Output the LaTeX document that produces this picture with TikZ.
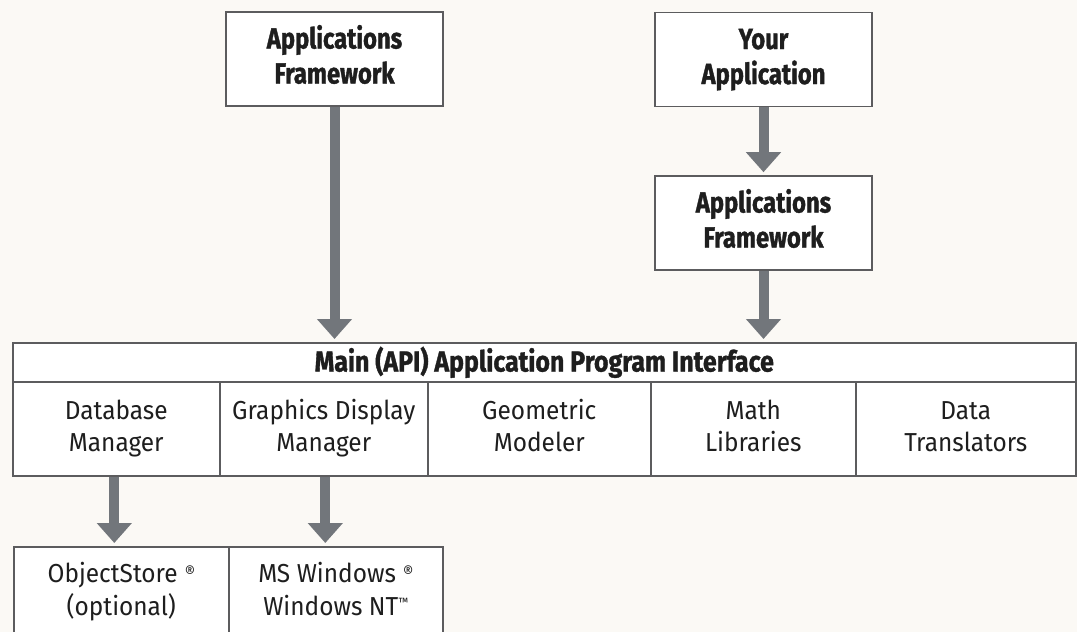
\documentclass[tikz,border=0pt]{standalone}
\usepackage{fontspec}
\setmainfont{Fira Sans}[FakeStretch=0.94]
\newfontfamily\hfont{Fira Sans}[FakeStretch=0.82, BoldFeatures={FakeBold=1.2}]
\newfontfamily\hdrfont{Fira Sans}[FakeStretch=0.86, BoldFeatures={FakeBold=1.2}]
\usetikzlibrary{arrows.meta}
\definecolor{paper}{HTML}{FBF9F5}
\definecolor{edge}{HTML}{5C5C5E}
\definecolor{arrowc}{HTML}{72767B}
\definecolor{ink}{HTML}{1E1E1E}
\newcommand{\regmark}{\hspace{7pt}{\fontsize{17}{17}\selectfont\raisebox{4pt}{®}}}
\tikzset{
  box/.style={draw=edge, line width=1.6pt, fill=white, text=ink, align=center, inner sep=0pt},
  bigbox/.style={box, minimum width=217pt, minimum height=94pt, font=\hfont\bfseries\fontsize{29}{35}\selectfont},
  cell/.style={box, anchor=north west, minimum height=94pt, font=\fontsize{26}{32}\selectfont},
  lowcell/.style={box, anchor=north west, minimum height=92pt, font=\fontsize{26}{33}\selectfont},
  arr/.style={draw=arrowc, line width=10pt, -{Triangle[width=34pt,length=20pt]}, shorten >=3pt}
}
\begin{document}
\begin{tikzpicture}[x=1pt,y=-1pt]
\useasboundingbox (0,0) rectangle (1077,632);
\clip (0,0) rectangle (1077,632);
\fill[paper] (0,0) rectangle (1077,632);
% top boxes
\node[bigbox] (af1) at (334.5,59) {\strut Applications\\Framework\strut};
\node[bigbox] (you) at (763.5,59.5) {\strut Your\\Application\strut};
\node[bigbox] (af2) at (763.5,223) {\strut Applications\\Framework\strut};
% main API box
\node[box, anchor=north west, minimum width=1063pt, minimum height=39pt,
      font=\hdrfont\bfseries\fontsize{29}{30}\selectfont] (api) at (12,342) {Main (API) Application Program Interface};
\node[cell, minimum width=207pt] (db) at (12,381) {\strut Database\\Manager\strut};
\node[cell, minimum width=208pt] (gdm) at (219,381) {\strut Graphics Display\\Manager\strut};
\node[cell, minimum width=223pt] (geo) at (427,381) {\strut Geometric\\Modeler\strut};
\node[cell, minimum width=205pt] (math) at (650,381) {\strut Math\\Libraries\strut};
\node[cell, minimum width=220pt] (dt) at (855,381) {\strut Data\\Translators\strut};
% lower boxes
\node[lowcell, minimum width=215pt] (os) at (13,546) {\strut ObjectStore\regmark\\(optional)\strut};
\node[lowcell, minimum width=214pt] (win) at (228,546) {\strut MS Windows\regmark\\Windows NT\raisebox{9pt}{\fontsize{12}{12}\selectfont ™}\strut};
% arrows
\draw[arr] (af1.south) -- (af1.south |- api.north);
\draw[arr] (you.south) -- (af2.north);
\draw[arr] (af2.south) -- (af2.south |- api.north);
\draw[arr] ([xshift=-2pt]db.south) -- ([xshift=-2pt]db.south |- os.north);
\draw[arr] ([xshift=1.5pt]gdm.south) -- ([xshift=1.5pt]gdm.south |- win.north);
\end{tikzpicture}
\end{document}
